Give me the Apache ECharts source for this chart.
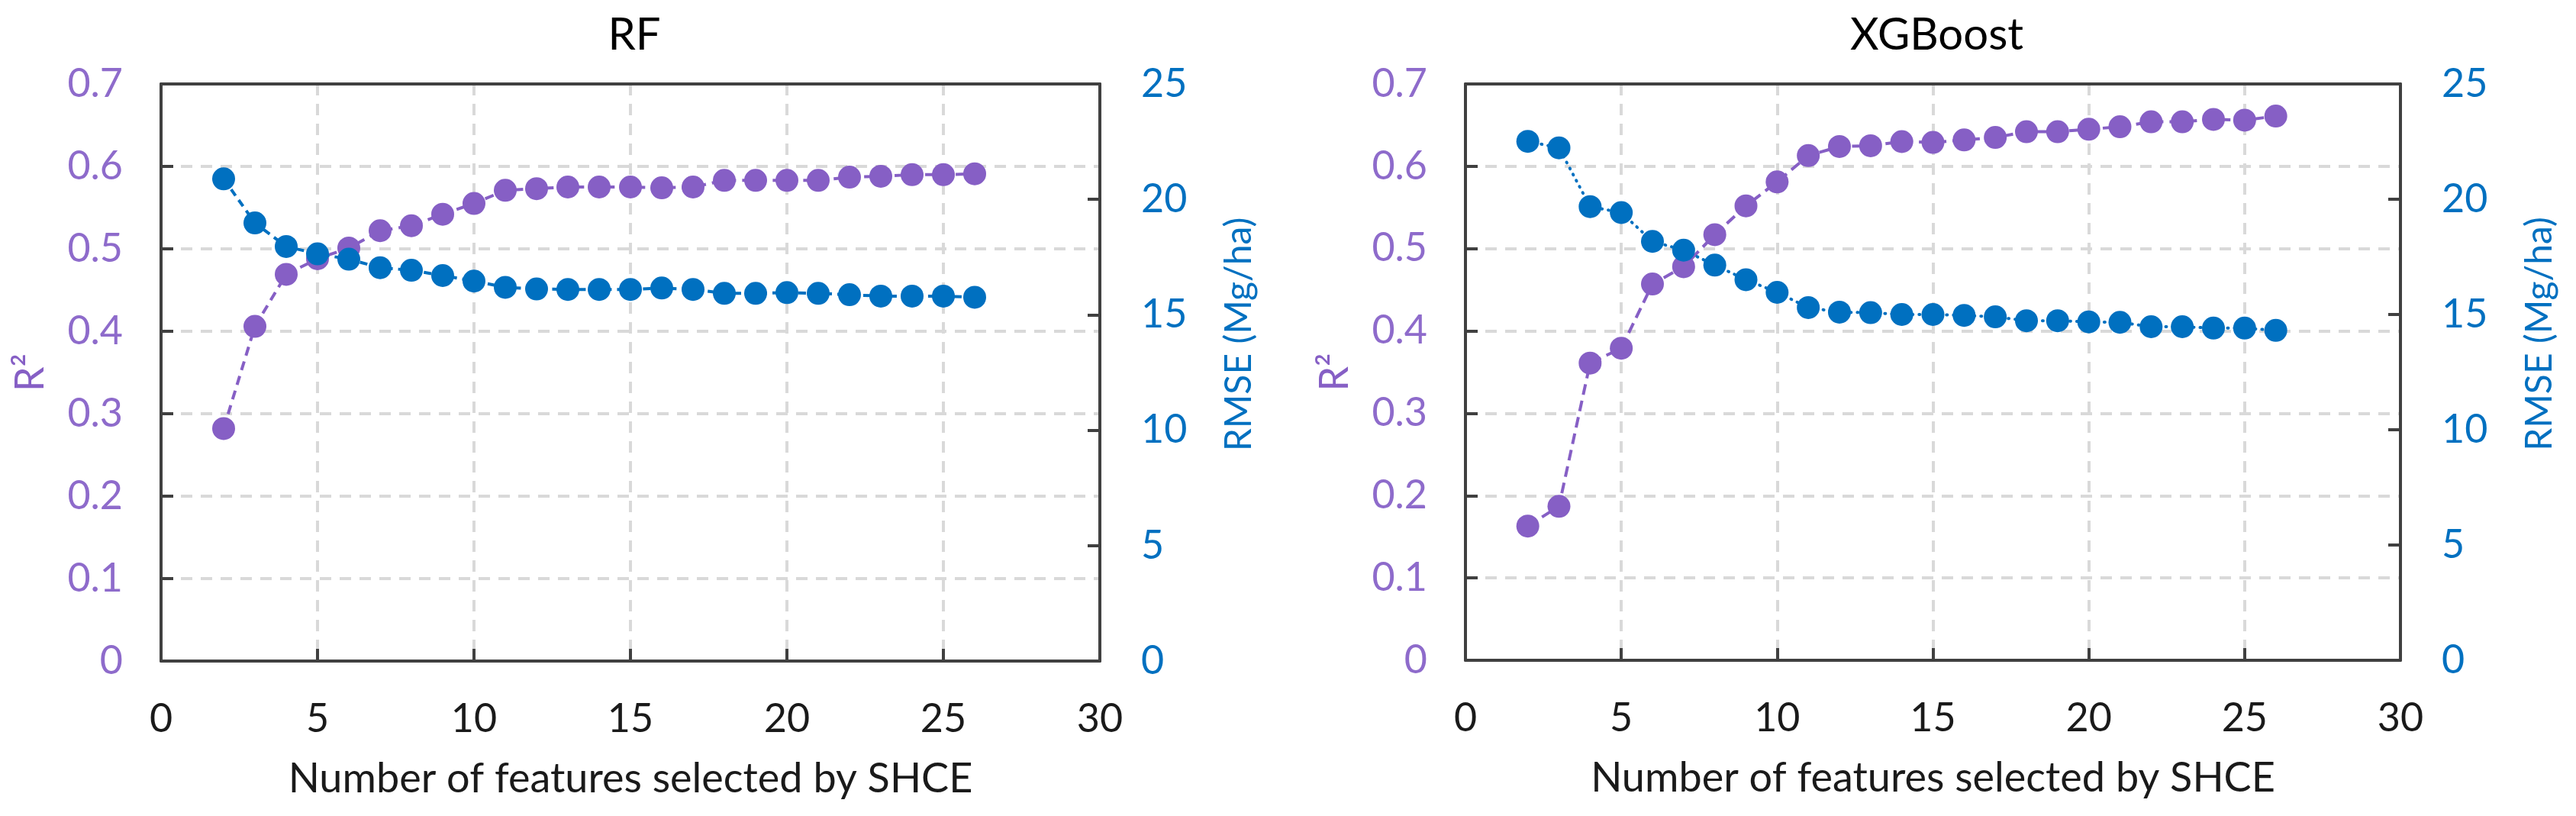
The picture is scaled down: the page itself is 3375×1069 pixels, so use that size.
<!DOCTYPE html>
<html>
<head>
<meta charset="utf-8">
<script src="https://cdn.jsdelivr.net/npm/echarts@6/dist/echarts.min.js"></script>
<style>
html,body{margin:0;padding:0;background:#fff;}
#chart{width:3375px;height:1069px;}
</style>
</head>
<body>
<div id="chart"></div>
<script>
// ---- data ----
const features = [2,3,4,5,6,7,8,9,10,11,12,13,14,15,16,17,18,19,20,21,22,23,24,25,26];
const rfR2 = [0.282,0.406,0.469,0.488,0.501,0.522,0.528,0.542,0.555,0.571,0.573,0.575,0.575,0.575,0.574,0.575,0.583,0.583,0.583,0.583,0.587,0.588,0.590,0.590,0.591];
const rfRmse = [20.89,18.98,17.96,17.64,17.41,17.04,16.93,16.70,16.46,16.19,16.12,16.10,16.10,16.10,16.16,16.10,15.93,15.93,15.96,15.93,15.87,15.81,15.81,15.81,15.76];
const xgbR2 = [0.163,0.187,0.361,0.379,0.457,0.478,0.517,0.552,0.581,0.613,0.624,0.625,0.630,0.629,0.632,0.635,0.642,0.642,0.645,0.648,0.654,0.654,0.657,0.656,0.661];
const xgbRmse = [22.51,22.23,19.68,19.42,18.17,17.79,17.14,16.51,15.96,15.30,15.10,15.08,15.00,15.00,14.96,14.90,14.73,14.73,14.68,14.66,14.47,14.47,14.41,14.41,14.31];
const titles = ['RF','XGBoost'];
const xName = 'Number of features selected by SHCE';
const leftName = 'R²';
const rightName = 'RMSE (Mg/ha)';

const PURPLE = '#865FC5';
const BLUE = '#0070C0';
const FONT = 'Lato';
const AXIS = '#404040';
const GRIDC = '#D9D9D9';

const grids = [
  {left:211, right:1934, top:110, bottom:203},
  {left:1920, right:230, top:110, bottom:204}
];

function pairs(arr){ return features.map((f,i)=>[f,arr[i]]); }

const bottomAxes = [0,1].map(i=>({
  type:'value', gridIndex:i, min:0, max:30, interval:5, position:'bottom',
  name:xName, nameLocation:'middle', nameGap:128,
  nameTextStyle:{fontFamily:FONT, fontSize:54, color:'#1a1a1a'},
  axisLine:{show:true, lineStyle:{color:AXIS, width:4}},
  axisTick:{show:true, inside:true, length:16, lineStyle:{color:AXIS, width:4}},
  axisLabel:{margin:50, fontFamily:FONT, fontSize:52, color:'#1a1a1a'},
  splitLine:{show:true, lineStyle:{color:GRIDC, width:4, type:[15,11]}}
}));
const topAxes = [0,1].map(i=>({
  type:'value', gridIndex:i, min:0, max:30, interval:5, position:'top',
  axisLine:{show:true, onZero:false, lineStyle:{color:AXIS, width:4}},
  axisTick:{show:false}, axisLabel:{show:false}, splitLine:{show:false}
}));

const option = {
  backgroundColor:'#fff',
  animation:false,
  title: titles.map((t,i)=>({
    text:t,
    left: grids[i].left + (3375 - grids[i].left - grids[i].right)/2,
    top: 12,
    textAlign:'center',
    textStyle:{fontFamily:FONT, fontSize:58, fontWeight:'normal', color:'#000'}
  })),
  grid: grids.map(g=>Object.assign({show:false}, g)),
  xAxis: bottomAxes.concat(topAxes),
  yAxis: [].concat(...[0,1].map(i=>[
    {
      type:'value', gridIndex:i, min:0, max:0.7, interval:0.1, position:'left',
      name:leftName, nameLocation:'middle', nameGap:145, nameRotate:90,
      nameTextStyle:{fontFamily:FONT, fontSize:52, color:PURPLE},
      axisLine:{show:true, onZero:false, lineStyle:{color:AXIS, width:4}},
      axisTick:{show:true, inside:true, length:16, lineStyle:{color:AXIS, width:4}},
      axisLabel:{margin:50, fontFamily:FONT, fontSize:52, color:'#8E6BCB'},
      splitLine:{show:true, lineStyle:{color:GRIDC, width:4, type:[15,11]}}
    },
    {
      type:'value', gridIndex:i, min:0, max:25, interval:5, position:'right',
      name:rightName, nameLocation:'middle', nameGap:159, nameRotate:90,
      nameTextStyle:{fontFamily:FONT, fontSize:48, color:BLUE, padding:[0,0,0,100]},
      axisLine:{show:true, onZero:false, lineStyle:{color:AXIS, width:4}},
      axisTick:{show:true, inside:true, length:16, lineStyle:{color:AXIS, width:4}},
      axisLabel:{margin:54, fontFamily:FONT, fontSize:52, color:BLUE},
      splitLine:{show:false}
    }
  ])),
  series: [
    {type:'line', xAxisIndex:0, yAxisIndex:0, data:pairs(rfR2), symbol:'circle', symbolSize:30,
     itemStyle:{color:PURPLE}, lineStyle:{color:PURPLE, width:4, type:[12,8]}, z:3},
    {type:'line', xAxisIndex:0, yAxisIndex:1, data:pairs(rfRmse), symbol:'circle', symbolSize:30,
     itemStyle:{color:BLUE}, lineStyle:{color:BLUE, width:4, type:[10,7]}, z:4},
    {type:'line', xAxisIndex:1, yAxisIndex:2, data:pairs(xgbR2), symbol:'circle', symbolSize:30,
     itemStyle:{color:PURPLE}, lineStyle:{color:PURPLE, width:4, type:[14,8]}, z:3},
    {type:'line', xAxisIndex:1, yAxisIndex:3, data:pairs(xgbRmse), symbol:'circle', symbolSize:30,
     itemStyle:{color:BLUE}, lineStyle:{color:BLUE, width:4, type:[1,8], cap:'round'}, z:4}
  ]
};

const chart = echarts.init(document.getElementById('chart'), null, {renderer:'canvas'});
chart.setOption(option);
</script>
</body>
</html>
